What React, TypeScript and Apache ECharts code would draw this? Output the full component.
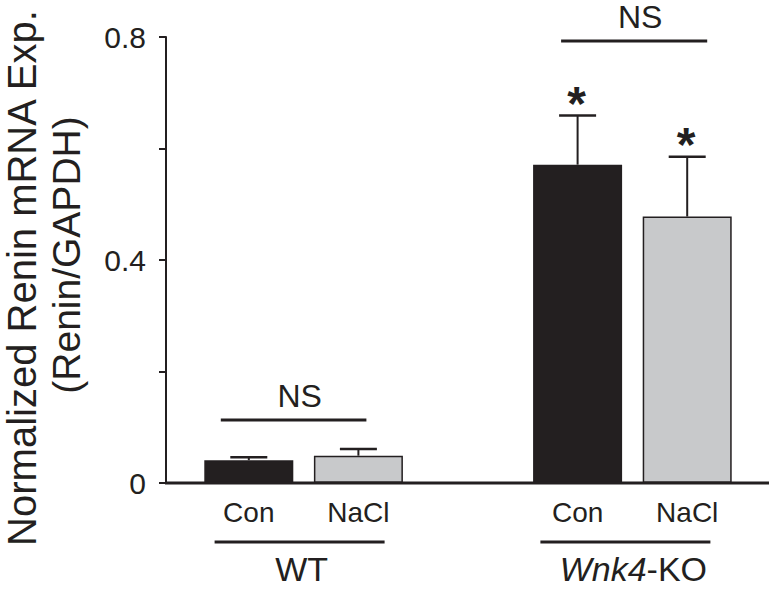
import React, { useEffect, useRef } from "react";
import * as echarts from "echarts";

// ---- data ----
const categories = ["Con", "NaCl", "", "Con", "NaCl"];
const meanValues: (number | null)[] = [0.041, 0.049, null, 0.571, 0.478];
const upperValues: (number | null)[] = [0.046, 0.061, null, 0.659, 0.585];
const barColors = ["#231f20", "#c8c9cb", "#ffffff", "#231f20", "#c8c9cb"];
const yTickLabels: Record<string, string> = { "0": "0", "0.4": "0.4", "0.8": "0.8" };
const groupNames = ["WT", "Wnk4-KO"];
const groupMembers = [
  [0, 1],
  [3, 4],
];
const nsBrackets = [
  { from: 0, to: 1, value: 0.113 },
  { from: 3, to: 4, value: 0.793 },
];
const starMarks = [3, 4];

const FONT = "'Liberation Sans', Arial, Helvetica, sans-serif";
const INK = "#231f20";

export default function App() {
  const ref = useRef<HTMLDivElement>(null);

  useEffect(() => {
    if (!ref.current) return;
    const chart = echarts.init(ref.current, null, { renderer: "svg" });

    const errData = meanValues
      .map((m, i) => (m == null ? null : [i, m, upperValues[i] as number]))
      .filter((d) => d != null);

    chart.setOption({
      animation: false,
      backgroundColor: "#ffffff",
      grid: { left: 194, right: 27, top: 37, bottom: 109, containLabel: false },
      xAxis: {
        type: "category",
        data: categories,
        axisLine: { show: false },
        axisTick: { show: false },
        axisLabel: {
          fontSize: 28,
          fontFamily: FONT,
          color: INK,
          margin: 15,
        },
      },
      yAxis: {
        type: "value",
        min: 0,
        max: 0.8,
        interval: 0.2,
        offset: 28,
        axisLine: { show: true, lineStyle: { color: INK, width: 2 } },
        axisTick: { show: true, inside: false, length: 7, lineStyle: { color: INK, width: 2 } },
        splitLine: { show: false },
        axisLabel: {
          fontSize: 30,
          fontFamily: FONT,
          color: INK,
          margin: 20,
          formatter: (v: number) => {
            const k = String(Math.round(v * 10) / 10);
            return yTickLabels[k] ?? "";
          },
        },
      },
      series: [
        {
          type: "bar",
          barWidth: 89,
          data: meanValues.map((v, i) => ({
            value: v,
            itemStyle: { color: barColors[i], borderColor: INK, borderWidth: 1.5 },
          })),
          z: 2,
        },
        {
          type: "custom",
          z: 3,
          data: errData,
          renderItem: (params: any, api: any) => {
            const x = api.value(0);
            const lo = api.value(1);
            const hi = api.value(2);
            const p0 = api.coord([x, lo]);
            const p1 = api.coord([x, hi]);
            const half = 18.5;
            return {
              type: "group",
              children: [
                {
                  type: "line",
                  shape: { x1: p0[0], y1: p0[1], x2: p1[0], y2: p1[1] },
                  style: { stroke: INK, lineWidth: 2 },
                },
                {
                  type: "line",
                  shape: { x1: p1[0] - half, y1: p1[1], x2: p1[0] + half, y2: p1[1] },
                  style: { stroke: INK, lineWidth: 2.5 },
                },
              ],
            };
          },
        },
      ],
    });

    const px = (i: number, v: number) => chart.convertToPixel({ gridIndex: 0 }, [i, v]) as number[];
    const zero = px(0, 0);
    const graphics: any[] = [];

    // x axis line spanning the full width
    graphics.push({
      type: "line",
      shape: { x1: 165, y1: zero[1], x2: 769, y2: zero[1] },
      style: { stroke: INK, lineWidth: 3 },
      z: 10,
    });

    // NS brackets
    const nsOffsets = [
      [-28, 8],
      [-16.5, 20],
    ];
    nsBrackets.forEach((b, k) => {
      const a = px(b.from, b.value);
      const c = px(b.to, b.value);
      const x1 = a[0] + nsOffsets[k][0];
      const x2 = c[0] + nsOffsets[k][1];
      graphics.push({
        type: "line",
        shape: { x1, y1: a[1], x2, y2: a[1] },
        style: { stroke: INK, lineWidth: 3 },
      });
      graphics.push({
        type: "text",
        x: (x1 + x2) / 2 + 6,
        y: a[1] - 24,
        style: {
          text: "NS",
          font: `32px ${FONT}`,
          fill: INK,
          textAlign: "center",
          textVerticalAlign: "middle",
        },
      });
    });

    // asterisks
    starMarks.forEach((i) => {
      const p = px(i, upperValues[i] as number);
      graphics.push({
        type: "text",
        x: p[0] - 1,
        y: p[1] - 12,
        style: {
          text: "*",
          font: `bold 48px ${FONT}`,
          fill: INK,
          textAlign: "center",
          textVerticalAlign: "middle",
        },
      });
    });

    // group lines and names
    const groupOffsets = [-4, -7];
    groupMembers.forEach((m, k) => {
      const a = px(m[0], 0);
      const c = px(m[1], 0);
      const cx = (a[0] + c[0]) / 2 + groupOffsets[k];
      graphics.push({
        type: "line",
        shape: { x1: cx - 85, y1: 542, x2: cx + 85, y2: 542 },
        style: { stroke: INK, lineWidth: 3 },
      });
      const name = groupNames[k];
      const isKO = name.indexOf("-") > 0;
      graphics.push({
        type: "text",
        x: cx + (isKO ? 8 : 2),
        y: 569,
        style: {
          text: isKO ? `{i|${name.split("-")[0]}}-${name.split("-")[1]}` : name,
          font: `34px ${FONT}`,
          fill: INK,
          textAlign: "center",
          textVerticalAlign: "middle",
          rich: isKO
            ? { i: { fontStyle: "italic", fontSize: 34, fontFamily: FONT, fill: INK } }
            : undefined,
        },
      });
    });

    // y-axis title (two lines)
    graphics.push({
      type: "text",
      x: 22,
      y: 278,
      rotation: Math.PI / 2,
      style: {
        text: "Normalized Renin mRNA Exp.",
        font: `40px ${FONT}`,
        fill: INK,
        textAlign: "center",
        textVerticalAlign: "middle",
      },
    });
    graphics.push({
      type: "text",
      x: 66,
      y: 255,
      rotation: Math.PI / 2,
      style: {
        text: "(Renin/GAPDH)",
        font: `39px ${FONT}`,
        fill: INK,
        textAlign: "center",
        textVerticalAlign: "middle",
      },
    });

    chart.setOption({ graphic: graphics });

    return () => chart.dispose();
  }, []);

  return (
    <div
      ref={ref}
      style={{ position: "fixed", left: 0, top: 0, width: 769, height: 592, background: "#fff" }}
    />
  );
}
